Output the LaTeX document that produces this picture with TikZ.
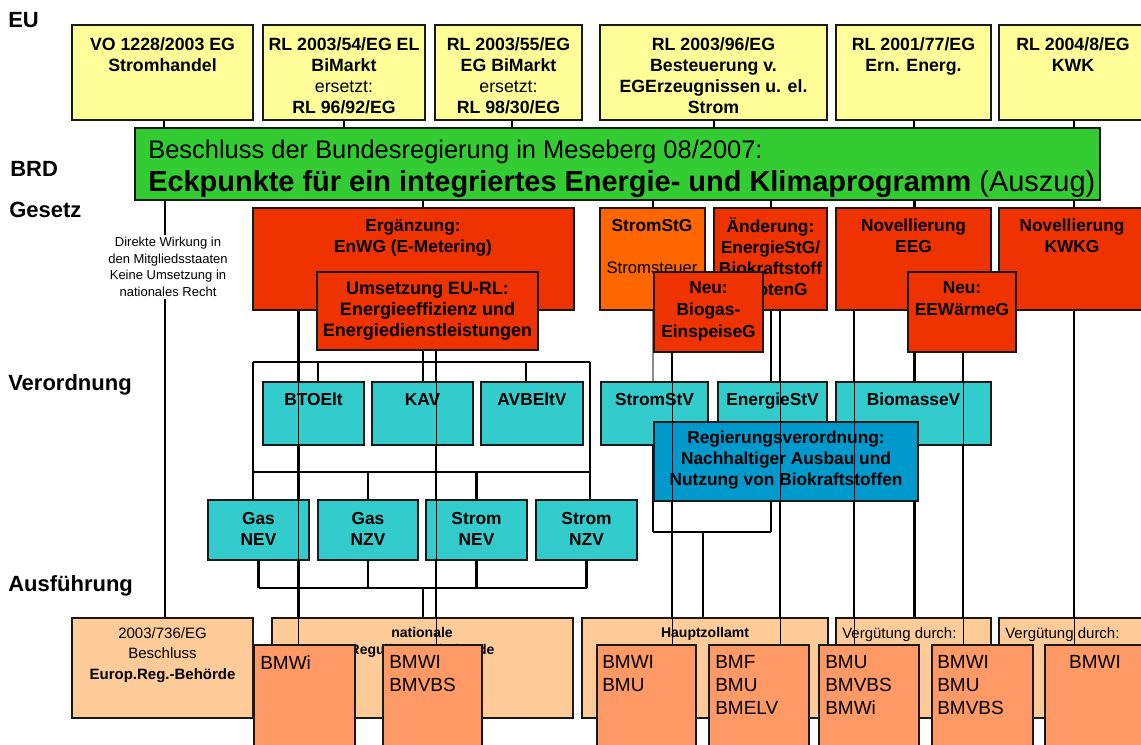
\documentclass[tikz,border=0pt]{standalone}
\usepackage{fontspec}
\setmainfont{Liberation Sans}
\usetikzlibrary{fit}
\pgfdeclarelayer{bg}\pgfdeclarelayer{fg}\pgfsetlayers{bg,main,fg}
\definecolor{yel}{HTML}{FFFF99}
\definecolor{grn}{HTML}{33CC33}
\definecolor{rd}{HTML}{EE3300}
\definecolor{org}{HTML}{FF6600}
\definecolor{cy}{HTML}{33CCCC}
\definecolor{blu}{HTML}{0099CC}
\definecolor{pch}{HTML}{FFCC99}
\definecolor{slm}{HTML}{FF9966}
\newcommand\fs[2]{\fontsize{#1}{#2}\selectfont}
\newcommand\bx[6]{\path (#2,#3) coordinate (#1nw) (#4,#5) coordinate (#1se);
  \node[box, fill=#6, fit=(#1nw)(#1se)] (#1) {};}
\begin{document}
\begin{tikzpicture}[x=0.75pt,y=-0.75pt,
  box/.style={draw=black!90, line width=1.05pt, inner sep=0pt},
  txt/.style={inner sep=0pt, align=center, font=\bfseries\fs{13pt}{15.75pt}},
  ytxt/.style={inner sep=0pt, align=center, font=\bfseries\fs{13.3pt}{15.75pt}},
  lab/.style={inner sep=0pt, anchor=base west, font=\bfseries\fs{16.5pt}{18pt}},
  bmt/.style={inner sep=0pt, align=left, anchor=north west, font=\fs{14.25pt}{17.4pt}},
  conn/.style={line width=2pt},
  thin/.style={line width=0.55pt}]
\useasboundingbox (0,0) rectangle (1141,744);
\begin{pgfonlayer}{bg}
\fill[white] (0,0) rectangle (1141,744);
\end{pgfonlayer}
% ---- left labels
\node[lab] (lEU) at (8,27) {EU};
\node[lab] (lBRD) at (10,176) {BRD};
\node[lab] (lGes) at (9,217) {Gesetz};
\node[lab] (lVer) at (8,390) {Verordnung};
\node[lab] (lAus) at (8,591) {Ausführung};
% ---- EU row
\bx{ya}{72}{25}{253}{120}{yel}
\node[ytxt, anchor=north] (tya) at (162.5,37) {VO 1228/2003 EG\\Stromhandel};
\bx{yb}{263}{25}{425}{120}{yel}
\node[ytxt, anchor=north] (tyb) at (344,37) {RL 2003/54/EG EL\\BiMarkt\\{\mdseries ersetzt:}\\RL 96/92/EG};
\bx{yc}{435}{25}{582}{120}{yel}
\node[ytxt, anchor=north] (tyc) at (508.5,37) {RL 2003/55/EG\\EG BiMarkt\\{\mdseries ersetzt:}\\RL 98/30/EG};
\bx{yd}{600}{25}{827}{120}{yel}
\node[ytxt, anchor=north] (tyd) at (713.5,37) {RL 2003/96/EG\\Besteuerung v.\\EGErzeugnissen u. el.\\Strom};
\bx{ye}{836}{25}{991}{120}{yel}
\node[ytxt, anchor=north] (tye) at (913.5,37) {RL 2001/77/EG\\Ern. Energ.};
\bx{yf}{999}{25}{1150}{120}{yel}
\node[ytxt, anchor=north] (tyf) at (1073,37) {RL 2004/8/EG\\KWK};
% ---- BRD
\bx{gr}{135}{128}{1100}{200}{grn}
\node[inner sep=0pt, anchor=base west, font=\fs{19.1pt}{20pt}] (tg1) at (148,158) {Beschluss der Bundesregierung in Meseberg 08/2007:};
\node[inner sep=0pt, anchor=base west, font=\bfseries\fs{21.7pt}{22pt}] (tg2) at (148,191) {Eckpunkte für ein integriertes Energie- und Klimaprogramm {\mdseries(Auszug)}};
% ---- Gesetz
\node[inner sep=2pt, fill=white, align=center, font=\fs{9.75pt}{12.4pt}] (dir) at (168,267) {Direkte Wirkung in\\den Mitgliedsstaaten\\Keine Umsetzung in\\nationales Recht};
\bx{erg}{253}{208}{574}{310}{rd}
\node[txt, anchor=north] (terg) at (413,219) {Ergänzung:\\EnWG (E-Metering)};
\bx{ums}{317}{272}{538}{350}{rd}
\node[txt, anchor=north, font=\bfseries\fs{13.5pt}{15.75pt}] (tums) at (427.5,282) {Umsetzung EU-RL:\\Energieeffizienz und\\Energiedienstleistungen};
\bx{stg}{600}{208}{705}{310}{org}
\node[txt, anchor=north] (tstg) at (652,219) {StromStG};
\node[inner sep=0pt, font=\fs{12.5pt}{14pt}] (tstg2) at (652,268) {Stromsteuer};
\bx{aend}{714}{208}{827}{310}{rd}
\node[txt, anchor=north] (taend) at (770.5,217) {Änderung:\\EnergieStG/\\Biokraftstoff\\QuotenG};
\bx{eeg}{836}{208}{991}{310}{rd}
\node[txt, anchor=north] (teeg) at (913.5,219) {Novellierung\\EEG};
\bx{kwkg}{999}{208}{1150}{310}{rd}
\node[txt, anchor=north] (tkwkg) at (1072,219) {Novellierung\\KWKG};
\bx{biog}{654}{272}{763}{352}{rd}
\node[txt, anchor=north, font=\bfseries\fs{13pt}{16.5pt}] (tbiog) at (708.5,281) {Neu:\\Biogas-\\EinspeiseG};
\bx{eew}{908}{272}{1016}{352}{rd}
\node[txt, anchor=north, font=\bfseries\fs{13pt}{16.5pt}] (teew) at (962,281) {Neu:\\EEWärmeG};
% ---- Verordnung
\bx{bto}{263}{382}{364}{445}{cy}
\node[txt, anchor=north] (tbto) at (313.5,393) {BTOElt};
\bx{kav}{372}{382}{473}{445}{cy}
\node[txt, anchor=north] (tkav) at (422.5,393) {KAV};
\bx{avb}{481}{382}{583}{445}{cy}
\node[txt, anchor=north] (tavb) at (532,393) {AVBEltV};
\bx{strv}{601}{382}{708}{445}{cy}
\node[txt, anchor=north] (tstrv) at (654.5,393) {StromStV};
\bx{enstv}{718}{382}{827}{445}{cy}
\node[txt, anchor=north] (tenstv) at (772.5,393) {EnergieStV};
\bx{biomv}{836}{382}{991}{445}{cy}
\node[txt, anchor=north] (tbiomv) at (913.5,393) {BiomasseV};
\bx{reg}{654}{422}{918}{501}{blu}
\node[txt, anchor=north] (treg) at (786,431) {Regierungsverordnung:\\Nachhaltiger Ausbau und\\Nutzung von Biokraftstoffen};
\bx{gnev}{208}{500}{309}{560}{cy}
\node[txt, anchor=north] (tgnev) at (258.5,512) {Gas\\NEV};
\bx{gnzv}{318}{500}{418}{560}{cy}
\node[txt, anchor=north] (tgnzv) at (368,512) {Gas\\NZV};
\bx{snev}{426}{500}{527}{560}{cy}
\node[txt, anchor=north] (tsnev) at (476.5,512) {Strom\\NEV};
\bx{snzv}{536}{500}{637}{560}{cy}
\node[txt, anchor=north] (tsnzv) at (586.5,512) {Strom\\NZV};
% ---- Ausfuehrung
\bx{pa}{72}{618}{253}{718}{pch}
\node[inner sep=0pt, align=center, anchor=north, font=\fs{11.25pt}{15.4pt}] (tpa) at (162.5,627) {2003/736/EG\\Beschluss\\\textbf{Europ.Reg.-Behörde}};
\bx{pb}{272}{618}{573}{718}{pch}
\node[txt, anchor=north, font=\bfseries\fs{10.5pt}{13pt}] (tpb) at (422,627) {nationale\\Regulierungsbehörde};
\bx{pc}{582}{618}{828}{718}{pch}
\node[txt, anchor=north, font=\bfseries\fs{10.5pt}{13pt}] (tpc) at (705,627) {Hauptzollamt};
\bx{pd}{836}{618}{991}{718}{pch}
\node[inner sep=0pt, anchor=north west, font=\fs{11.25pt}{13pt}] (tpd) at (842,627) {Vergütung durch:};
\bx{pe}{999}{618}{1150}{718}{pch}
\node[inner sep=0pt, anchor=north west, font=\fs{11.25pt}{13pt}] (tpe) at (1005,627) {Vergütung durch:};
\bx{bma}{254}{645}{355}{760}{slm}
\node[bmt] (tbma) at (260,655) {BMWi};
\bx{bmb}{383}{645}{482}{760}{slm}
\node[bmt] (tbmb) at (389,655) {BMWI\\BMVBS};
\bx{bmc}{597}{645}{696}{760}{slm}
\node[bmt] (tbmc) at (602,655) {BMWI\\BMU};
\bx{bmd}{709}{645}{809}{760}{slm}
\node[bmt] (tbmd) at (715,655) {BMF\\BMU\\BMELV};
\bx{bme}{819}{645}{919}{760}{slm}
\node[bmt] (tbme) at (825,655) {BMU\\BMVBS\\BMWi};
\bx{bmf}{932}{645}{1033}{760}{slm}
\node[bmt] (tbmf) at (937,655) {BMWI\\BMU\\BMVBS};
\bx{bmg}{1045}{645}{1150}{760}{slm}
\node[bmt, anchor=north] (tbmg) at (1095,655) {BMWI};
% ---- bracket coordinates
\coordinate (b1tl) at (253,362); \coordinate (b1tr) at (590,362);
\coordinate (b1bl) at (253,472); \coordinate (b1br) at (590,472);
\coordinate (b2l) at (258,588);
\coordinate (b3l) at (653,532); \coordinate (b3r) at (771,532);
% ---- connectors (behind)
\begin{pgfonlayer}{bg}
\draw[conn] (ya.south -| 164,0) -- (gr.north -| 164,0);
\draw[conn] (yb.south -| 344,0) -- (gr.north -| 344,0);
\draw[conn] (yc.south -| 512,0) -- (gr.north -| 512,0);
\draw[conn] (yd.south -| 714,0) -- (gr.north -| 714,0);
\draw[conn] (ye.south -| 914,0) -- (gr.north -| 914,0);
\draw[conn] (yf.south -| 1074,0) -- (gr.north -| 1074,0);
\draw[conn] (gr.south -| 165,0) -- (pa.north -| 165,0);
\draw[conn] (gr.south -| 423,0) -- (erg.north -| 423,0);
\draw[conn] (gr.south -| 653,0) -- (stg.north -| 653,0);
\draw[conn] (gr.south -| 771,0) -- (aend.north -| 771,0);
\draw[conn] (gr.south -| 914.5,0) -- (eeg.north -| 914.5,0);
\draw[conn] (gr.south -| 1074,0) -- (kwkg.north -| 1074,0);
\draw[conn] (erg.south -| 298.5,0) -- (bma.north -| 298.5,0);
\draw[conn] (ums.south -| 423,0) -- (kav.north -| 423,0);
\draw[conn] (ums.south -| 436,0) -- (bmb.north -| 436,0);
\draw[conn] (b1tl) -- (b1tr);
\draw[conn] (b1bl) -- (b1br);
\draw[conn] (b1tl) -- (gnev.north -| b1tl);
\draw[conn] (b1tr) -- (snzv.north -| b1tr);
\draw[conn] (b1tl -| 318,0) -- (bto.north -| 318,0);
\draw[conn] (b1tl -| 526,0) -- (avb.north -| 526,0);
\draw[conn] (b1bl -| gnzv.north) -- (gnzv.north);
\draw[conn] (b1bl -| snev.north) -- (snev.north);
\draw[conn] (gnev.south) -- (gnev.south |- b2l);
\draw[conn] (gnzv.south) -- (gnzv.south |- b2l);
\draw[conn] (snev.south) -- (snev.south |- b2l);
\draw[conn] (snzv.south) -- (snzv.south |- b2l);
\draw[conn] (gnev.south |- b2l) -- (snzv.south |- b2l);
\draw[conn] (b2l -| 423,0) -- (pb.north -| 423,0);
\draw[conn, black!45] (stg.south -| 653,0) -- (strv.north -| 653,0);
\draw[conn] (strv.south -| 653,0) -- (b3l);
\draw[conn] (enstv.south -| 771,0) -- (b3r);
\draw[conn] (b3l) -- (b3r);
\draw[conn] (b3l -| 703,0) -- (pc.north -| 703,0);
\draw[conn] (aend.south -| 771,0) -- (enstv.north -| 771,0);
\draw[conn] (aend.south -| 780,0) -- (bmd.north -| 780,0);
\draw[conn] (biog.south -| 672,0) -- (bmc.north -| 672,0);
\draw[conn] (eeg.south -| 854,0) -- (bme.north -| 854,0);
\draw[conn] (eeg.south -| 914.5,0) -- (biomv.north -| 914.5,0);
\draw[conn] (biomv.south -| 914.5,0) -- (pd.north -| 914.5,0);
\draw[conn] (eew.south -| 963,0) -- (bmf.north -| 963,0);
\draw[conn] (kwkg.south -| 1074,0) -- (bmg.north -| 1074,0);
\end{pgfonlayer}
% ---- lines seen through boxes
\begin{pgfonlayer}{fg}
\draw[thin] (erg.south -| 298.5,0) -- (bma.north -| 298.5,0);
\draw[thin] (ums.south -| 436,0) -- (bmb.north -| 436,0);
\draw[thin] (aend.south -| 780,0) -- (bmd.north -| 780,0);
\draw[thin] (biog.south -| 672,0) -- (bmc.north -| 672,0);
\draw[thin] (eeg.south -| 854,0) -- (bme.north -| 854,0);
\draw[thin] (eew.south -| 963,0) -- (bmf.north -| 963,0);
\draw[thin] (kwkg.south -| 1074,0) -- (bmg.north -| 1074,0);
\end{pgfonlayer}
\end{tikzpicture}
\end{document}
